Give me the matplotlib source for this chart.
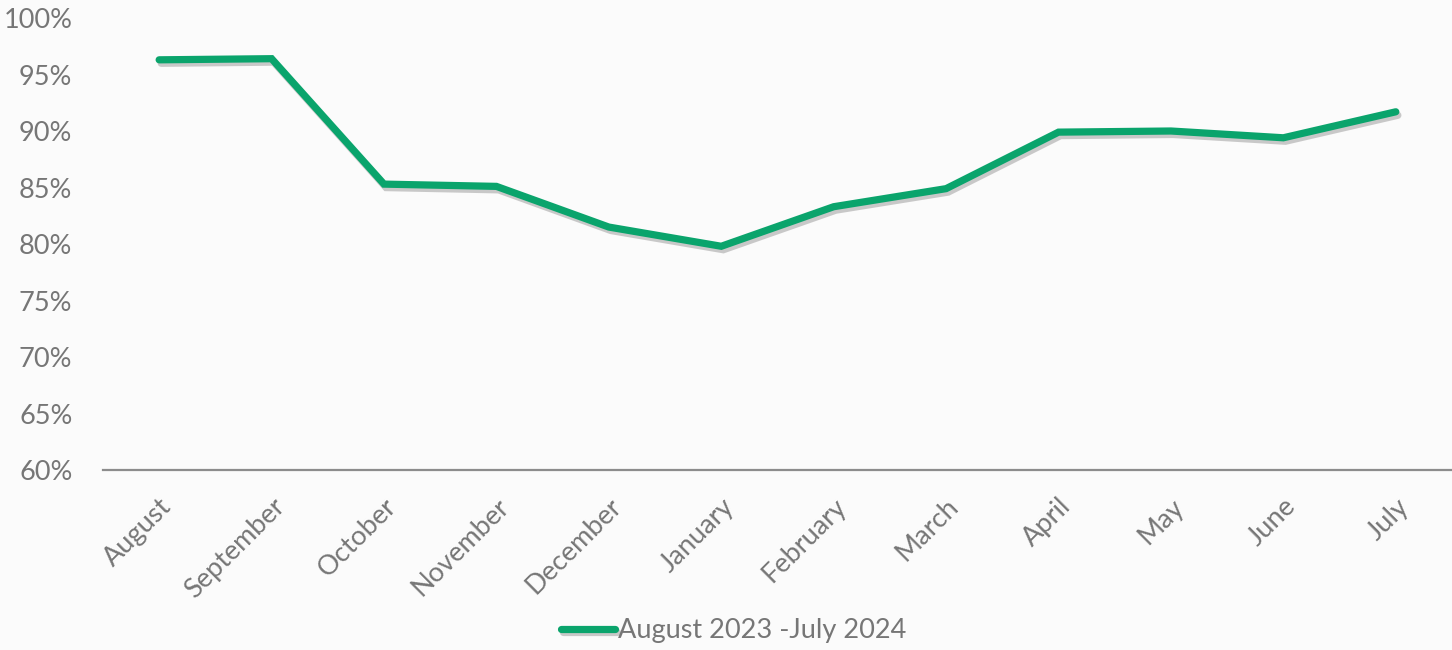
import matplotlib.pyplot as plt
import matplotlib.patheffects as pe
from matplotlib.ticker import PercentFormatter

months = ["August", "September", "October", "November", "December", "January",
          "February", "March", "April", "May", "June", "July"]
rates = [96.3, 96.4, 85.3, 85.1, 81.5, 79.8, 83.3, 84.9, 89.9, 90.0, 89.4, 91.7]
series_name = "August 2023 -July 2024"

plt.rcParams["font.family"] = ["Lato", "DejaVu Sans"]

fig = plt.figure(figsize=(14.52, 6.5), dpi=100)
fig.patch.set_facecolor("#fbfbfb")
ax = fig.add_axes([0.0709, 0.2769, 0.9291, 0.6954])
ax.set_facecolor("none")

green = "#0aa46c"
grey = "#767676"

x = range(len(months))
ax.plot(x, rates, color=green, linewidth=5.2, solid_capstyle="round",
        solid_joinstyle="miter", label=series_name,
        path_effects=[pe.SimpleLineShadow(offset=(1.5, -2.5), shadow_color="#555555", alpha=0.3),
                      pe.Normal()])

ax.set_xlim(-0.5, len(months) - 0.5)
ax.set_ylim(60, 100)
ax.set_yticks(range(60, 101, 5))
ax.yaxis.set_major_formatter(PercentFormatter(decimals=0))
ax.set_xticks(list(x))
ax.set_xticklabels(months, rotation=45, ha="right", va="top", rotation_mode="anchor")

for s in ["top", "right", "left"]:
    ax.spines[s].set_visible(False)
ax.spines["bottom"].set_color("#8c8c8c")
ax.spines["bottom"].set_linewidth(1.6)
ax.tick_params(axis="both", length=0, labelsize=19.5, colors=grey)
ax.tick_params(axis="y", pad=22)
ax.tick_params(axis="x", pad=17)

leg = fig.legend(loc="center", bbox_to_anchor=(0.505, 0.03), frameon=False,
                 fontsize=19.5, handlelength=2.0, handletextpad=0.1,
                 labelcolor=grey)

fig.savefig("out.png", dpi=100, facecolor=fig.get_facecolor())
